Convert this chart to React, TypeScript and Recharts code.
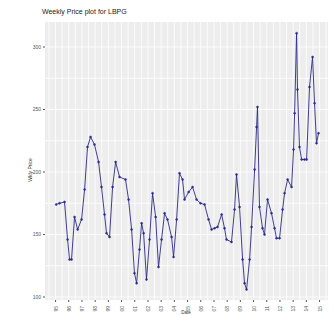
import React from 'react';
import { LineChart, Line, XAxis, YAxis, CartesianGrid } from 'recharts';

// decimal year of each reading
const weeks = [
  1995.05, 1995.3, 1995.68, 1995.91, 1996.06, 1996.21, 1996.44, 1996.67, 1996.97, 1997.2,
  1997.42, 1997.65, 1997.95, 1998.26, 1998.48, 1998.71, 1998.86, 1999.09, 1999.32, 1999.55,
  1999.85, 2000.3, 2000.53, 2000.76, 2000.98, 2001.14, 2001.36, 2001.52, 2001.67, 2001.89,
  2002.12, 2002.35, 2002.58, 2002.8, 2003.03, 2003.26, 2003.48, 2003.79, 2003.94, 2004.17,
  2004.39, 2004.62, 2004.77, 2005.08, 2005.38, 2005.68, 2005.98, 2006.29, 2006.59, 2006.82,
  2007.05, 2007.27, 2007.58, 2007.8, 2007.95, 2008.33, 2008.56, 2008.71, 2008.94, 2009.17,
  2009.32, 2009.47, 2009.7, 2009.85, 2010.08, 2010.23, 2010.3, 2010.45, 2010.68, 2010.83,
  2011.06, 2011.36, 2011.59, 2011.74, 2011.97, 2012.2, 2012.35, 2012.58, 2012.88, 2013.03,
  2013.11, 2013.26, 2013.33, 2013.48, 2013.64, 2013.86, 2014.02, 2014.24, 2014.47, 2014.62,
  2014.77, 2014.92,
];

const prices = [
  174, 175, 176, 146, 130, 130, 164, 154, 162, 186,
  220, 228, 222, 208, 188, 166, 151, 148, 188, 208,
  196, 194, 178, 154, 119, 111, 138, 159, 151, 114,
  146, 183, 164, 124, 146, 167, 162, 148, 132, 162,
  199, 194, 178, 184, 188, 178, 175, 174, 162, 154,
  155, 156, 166, 155, 146, 144, 170, 198, 172, 130,
  111, 106, 130, 156, 202, 236, 252, 172, 155, 150,
  178, 167, 155, 147, 147, 170, 183, 194, 188, 218,
  247, 311, 266, 220, 210, 210, 210, 268, 292, 255,
  223, 231,
];

const yearTicks = [
  1995, 1996, 1997, 1998, 1999, 2000, 2001, 2002, 2003, 2004, 2005,
  2006, 2007, 2008, 2009, 2010, 2011, 2012, 2013, 2014, 2015,
];
const priceTicks = [100, 150, 200, 250, 300];

const data = weeks.map((w, i) => ({ week: w, price: prices[i] }));

const XDOMAIN: [number, number] = [1994.2, 2015.64];
const YDOMAIN: [number, number] = [97.6, 320];

// major + minor grid lines, like ggplot
const vGrid = (props: any) => {
  const { offset } = props;
  const span = XDOMAIN[1] - XDOMAIN[0];
  const out: number[] = [];
  for (let v = 1994.5; v <= 2015.5; v += 0.5) {
    out.push(offset.left + ((v - XDOMAIN[0]) / span) * offset.width);
  }
  return out;
};

const hGrid = (props: any) => {
  const { offset } = props;
  const span = YDOMAIN[1] - YDOMAIN[0];
  const out: number[] = [];
  for (let v = 100; v <= 300; v += 25) {
    out.push(offset.top + ((YDOMAIN[1] - v) / span) * offset.height);
  }
  return out;
};

const YearTick = (props: any) => {
  const { x, y, payload } = props;
  return (
    <text
      x={x}
      y={y + 2}
      transform={`rotate(-90 ${x} ${y + 2})`}
      textAnchor="end"
      dominantBaseline="central"
      fontSize={5}
      fill="#555"
    >
      {String(payload.value).slice(2)}
    </text>
  );
};

export default function App() {
  return (
    <div style={{ position: 'absolute', left: 0, top: 0, width: 334, height: 315, background: '#fff', fontFamily: 'Arial, "Liberation Sans", sans-serif' }}>
      <LineChart
        width={334}
        height={315}
        data={data}
        margin={{ top: 22, right: 6, bottom: 0, left: 23 }}
      >
        <text x={42} y={14} fontSize={7} fill="#222">Weekly Price plot for LBPG</text>
        <text x={32} y={170} fontSize={5} fill="#333" textAnchor="middle" transform="rotate(-90 32 170)">Wkly Price</text>
        <text x={186} y={314} fontSize={4.5} fill="#333" textAnchor="middle">Date</text>
        <CartesianGrid
          fill="#ededed"
          stroke="#ffffff"
          strokeWidth={0.8}
          verticalCoordinatesGenerator={vGrid}
          horizontalCoordinatesGenerator={hGrid}
        />
        <XAxis
          dataKey="week"
          type="number"
          domain={XDOMAIN}
          ticks={yearTicks}
          allowDataOverflow
          height={15}
          axisLine={false}
          tickLine={{ stroke: '#555' }}
          tickSize={2}
          tick={<YearTick />}
          interval={0}
        />
        <YAxis
          type="number"
          domain={YDOMAIN}
          ticks={priceTicks}
          allowDataOverflow
          width={22}
          axisLine={false}
          tickLine={{ stroke: '#555' }}
          tickSize={2}
          tick={{ fontSize: 5, fill: '#555' }}
          interval={0}
        />
        <Line
          type="linear"
          dataKey="price"
          stroke="#2a2a86"
          strokeWidth={0.9}
          dot={{ r: 1, fill: '#2a2a8f', stroke: '#2a2a8f', strokeWidth: 0.5 }}
          isAnimationActive={false}
        />
      </LineChart>
    </div>
  );
}
